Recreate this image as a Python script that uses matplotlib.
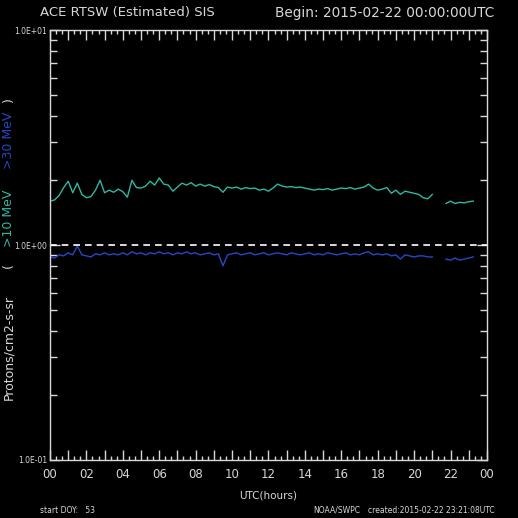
import numpy as np
import matplotlib
matplotlib.use("Agg")
import matplotlib.pyplot as plt
from matplotlib.ticker import MultipleLocator, FuncFormatter, LogLocator, NullFormatter

nan = np.nan
hours = [i * 0.25 for i in range(94)]

p10 = [1.60, 1.62, 1.70, 1.85, 1.98, 1.75, 1.94, 1.72, 1.66, 1.68,
       1.80, 2.00, 1.75, 1.80, 1.76, 1.82, 1.77, 1.67, 2.00, 1.85,
       1.84, 1.88, 1.98, 1.90, 2.05, 1.92, 1.90, 1.78, 1.86, 1.94,
       1.90, 1.95, 1.88, 1.92, 1.88, 1.91, 1.87, 1.85, 1.76, 1.86,
       1.84, 1.86, 1.82, 1.85, 1.83, 1.84, 1.80, 1.82, 1.78, 1.84,
       1.92, 1.88, 1.86, 1.87, 1.85, 1.86, 1.84, 1.82, 1.80, 1.82,
       1.81, 1.83, 1.80, 1.82, 1.84, 1.83, 1.85, 1.82, 1.84, 1.86,
       1.92, 1.84, 1.80, 1.82, 1.85, 1.74, 1.80, 1.72, 1.78, 1.76,
       1.74, 1.72, 1.66, 1.64, 1.72, nan, nan, 1.56, 1.60, 1.56,
       1.58, 1.57, 1.59, 1.60]

p30 = [0.88, 0.87, 0.90, 0.89, 0.92, 0.90, 0.99, 0.90, 0.89, 0.88,
       0.91, 0.90, 0.92, 0.90, 0.91, 0.90, 0.92, 0.90, 0.93, 0.91,
       0.92, 0.90, 0.92, 0.91, 0.93, 0.91, 0.92, 0.90, 0.92, 0.91,
       0.93, 0.91, 0.92, 0.90, 0.91, 0.92, 0.90, 0.91, 0.80, 0.90,
       0.91, 0.92, 0.90, 0.91, 0.92, 0.90, 0.91, 0.92, 0.90, 0.91,
       0.92, 0.91, 0.90, 0.92, 0.91, 0.90, 0.91, 0.92, 0.90, 0.91,
       0.90, 0.92, 0.91, 0.90, 0.91, 0.92, 0.90, 0.91, 0.90, 0.92,
       0.93, 0.90, 0.91, 0.90, 0.91, 0.89, 0.90, 0.86, 0.90, 0.89,
       0.88, 0.89, 0.89, 0.88, 0.88, nan, nan, 0.86, 0.85, 0.87,
       0.85, 0.86, 0.87, 0.88]

xtick_labels = ["00", "02", "04", "06", "08", "10", "12", "14", "16",
                "18", "20", "22", "00"]

TEAL = "#2fb8a2"
BLUE = "#2448c8"
FG = "#d8d8d8"

fig = plt.figure(figsize=(5.18, 5.18), dpi=100, facecolor="black")
ax = fig.add_axes([0.0965, 0.112, 0.8435, 0.830], facecolor="black")

ax.plot(hours, p10, color=TEAL, lw=1.0)
ax.plot(hours, p30, color=BLUE, lw=1.0)
ax.axhline(1.0, color="white", lw=1.2, ls=(0, (4, 3)))

ax.set_yscale("log")
ax.set_ylim(0.1, 10)
ax.set_xlim(0, 24)

for s in ax.spines.values():
    s.set_color(FG)
    s.set_linewidth(1.0)

ax.xaxis.set_major_locator(MultipleLocator(1))
ax.xaxis.set_minor_locator(MultipleLocator(1 / 3))
ax.xaxis.set_major_formatter(FuncFormatter(
    lambda v, p: xtick_labels[int(round(v)) // 2] if int(round(v)) % 2 == 0 else ""))
ax.yaxis.set_major_locator(LogLocator(base=10, numticks=5))
ax.yaxis.set_minor_locator(LogLocator(base=10, subs=np.arange(2, 10), numticks=20))
ax.yaxis.set_minor_formatter(NullFormatter())
ax.yaxis.set_major_formatter(FuncFormatter(
    lambda v, p: {0.1: "1.0E-01", 1.0: "1.0E+00", 10.0: "1.0E+01"}.get(round(v, 3), "")))

ax.tick_params(axis="both", which="both", direction="in", colors=FG,
               top=True, right=True)
ax.tick_params(axis="x", which="major", length=7, width=1, labelsize=8.5, pad=6)
ax.tick_params(axis="x", which="minor", length=3, width=1)
ax.tick_params(axis="y", which="major", length=7, width=1, labelsize=5.5, pad=2)
ax.tick_params(axis="y", which="minor", length=5, width=1)
ax.tick_params(labelcolor=FG)

fig.text(0.077, 0.975, "ACE RTSW (Estimated) SIS", color=FG, fontsize=9.5,
         ha="left", va="center")
fig.text(0.955, 0.975, "Begin: 2015-02-22 00:00:00UTC", color=FG, fontsize=9.8,
         ha="right", va="center")
fig.text(0.517, 0.044, "UTC(hours)", color=FG, fontsize=7.5, ha="center", va="center")
fig.text(0.077, 0.015, "start DOY:   53", color=FG, fontsize=5.5, ha="left", va="center")
fig.text(0.605, 0.015, "NOAA/SWPC", color=FG, fontsize=5.5, ha="left", va="center")
fig.text(0.71, 0.015, "created:2015-02-22 23:21:08UTC", color=FG, fontsize=5.5,
         ha="left", va="center")

# multi-coloured y label
YLX = 0.017
fig.text(YLX, 1 - 348 / 518, "Protons/cm2-s-sr", color=FG, fontsize=9,
         rotation=90, ha="center", va="center")
fig.text(YLX, 1 - 266 / 518, "(", color=FG, fontsize=9,
         rotation=90, ha="center", va="center")
fig.text(YLX, 1 - 218 / 518, ">10 MeV", color=TEAL, fontsize=9,
         rotation=90, ha="center", va="center")
fig.text(YLX, 1 - 140 / 518, ">30 MeV", color=BLUE, fontsize=9,
         rotation=90, ha="center", va="center")
fig.text(YLX, 1 - 100 / 518, ")", color=FG, fontsize=9,
         rotation=90, ha="center", va="center")

fig.savefig("out.png", dpi=100, facecolor="black")
